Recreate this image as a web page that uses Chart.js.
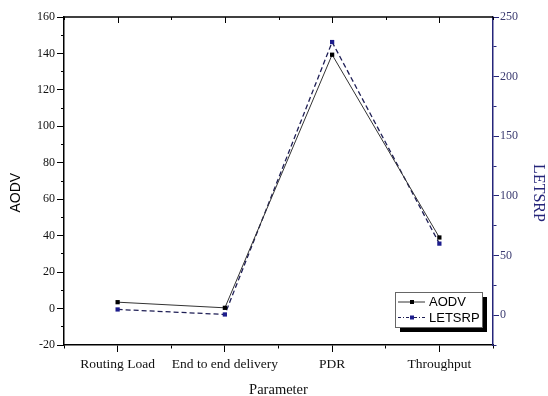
<!DOCTYPE html>
<html>
<head>
<meta charset="utf-8">
<script src="https://cdn.jsdelivr.net/npm/chart.js@4.4.0/dist/chart.umd.min.js"></script>
<style>
  html, body { margin: 0; padding: 0; background: #fff; }
</style>
</head>
<body>
<canvas id="myChart" width="548" height="396"></canvas>
<script>
// values
const categories = ["Routing Load", "End to end delivery", "PDR", "Throughput"];
const aodv = [3.5, 0.4, 139.3, 39];
const letsrp = [4.8, 0.6, 229, 60];
const leftRange = [-20, 160];
const rightRange = [-25, 250];

const navy = "#25257a";

// legend box with drop shadow, drawn inside the plot
const boxLegend = {
  id: "boxLegend",
  afterDatasetsDraw(chart) {
    const c = chart.ctx;
    const x = 395, y = 292, w = 87, h = 35;
    c.save();
    c.fillStyle = "#000";
    c.fillRect(x + 5, y + 5, w, h);
    c.fillStyle = "#fff";
    c.fillRect(x, y, w, h);
    c.strokeStyle = "#666";
    c.lineWidth = 1;
    c.strokeRect(x + 0.5, y + 0.5, w, h);
    chart.data.datasets.forEach((ds, i) => {
      const ly = y + 10 + i * 15.5;
      c.strokeStyle = ds.borderColor;
      c.lineWidth = 1;
      c.setLineDash(ds.legendDash);
      c.beginPath();
      c.moveTo(x + 3, ly);
      c.lineTo(x + 30, ly);
      c.stroke();
      c.setLineDash([]);
      c.fillStyle = ds.pointBackgroundColor;
      c.fillRect(x + 15, ly - 2, 4, 4);
      c.fillStyle = "#000";
      c.font = "13px 'Liberation Sans'";
      c.textBaseline = "middle";
      c.fillText(ds.label, x + 34, ly + 0.5);
    });
    c.restore();
  },
};

// top frame line with inward ticks
const topFrame = {
  id: "topFrame",
  afterDraw(chart) {
    const c = chart.ctx;
    const a = chart.chartArea;
    const xs = chart.scales.x;
    c.save();
    c.strokeStyle = "#000";
    c.lineWidth = 1.5;
    c.beginPath();
    c.moveTo(a.left, a.top);
    c.lineTo(a.right, a.top);
    c.stroke();
    c.lineWidth = 1;
    xs.ticks.forEach((t) => {
      const px = Math.round(xs.getPixelForValue(t.value)) + 0.5;
      const len = Number.isInteger(t.value) ? 6 : 3;
      c.beginPath();
      c.moveTo(px, a.top);
      c.lineTo(px, a.top + len);
      c.stroke();
    });
    c.restore();
  },
};

const ctx = document.getElementById("myChart");
new Chart(ctx, {
  type: "line",
  data: {
    datasets: [
      {
        label: "AODV",
        data: aodv.map((v, i) => ({ x: i, y: v })),
        yAxisID: "y",
        borderColor: "#333",
        borderWidth: 1,
        pointStyle: "rect",
        pointRadius: 3,
        pointBorderWidth: 0,
        pointBackgroundColor: "#000",
        legendDash: [],
      },
      {
        label: "LETSRP",
        data: letsrp.map((v, i) => ({ x: i, y: v })),
        yAxisID: "y1",
        borderColor: "#1e1e55",
        borderWidth: 1.3,
        borderDash: [5, 3],
        pointStyle: "rect",
        pointRadius: 3,
        pointBorderWidth: 0,
        pointBackgroundColor: "#1c1c8c",
        legendDash: [3, 2, 1, 2],
      },
    ],
  },
  options: {
    responsive: false,
    animation: false,
    devicePixelRatio: 1,
    layout: { padding: { top: 17, left: 0, right: 0, bottom: 0 } },
    plugins: { legend: { display: false }, tooltip: { enabled: false } },
    scales: {
      x: {
        type: "linear",
        min: -0.5,
        max: 3.5,
        afterFit: (s) => { s.height = 51; },
        ticks: {
          stepSize: 0.5,
          autoSkip: false,
          maxRotation: 0,
          padding: 4,
          color: "#111",
          font: { family: "'Liberation Serif'", size: 13.5 },
          callback: (v) => (Number.isInteger(v) ? categories[v] : ""),
        },
        grid: {
          drawOnChartArea: false,
          tickLength: 7,
          tickColor: "#000",
          tickWidth: 1,
          tickBorderDash: (c) => (Number.isInteger(c.tick.value) ? [] : [3, 100]),
        },
        border: { color: "#000", width: 1.5 },
        title: {
          display: true,
          text: "Parameter",
          color: "#111",
          font: { family: "'Liberation Serif'", size: 14.5, lineHeight: 0.85 },
          padding: 0,
        },
      },
      y: {
        position: "left",
        min: leftRange[0],
        max: leftRange[1],
        afterFit: (s) => { s.width = 64; },
        ticks: {
          stepSize: 10,
          autoSkip: false,
          padding: 2,
          color: "#111",
          font: { family: "'Liberation Serif'", size: 12 },
          callback: (v) => (v % 20 === 0 ? v : ""),
        },
        grid: {
          drawOnChartArea: false,
          tickLength: 7,
          tickColor: "#000",
          tickWidth: 1,
          tickBorderDash: (c) => (c.tick.value % 20 === 0 ? [] : [0, 4, 3, 100]),
        },
        border: { color: "#000", width: 1.5 },
        title: {
          display: true,
          // trailing spaces push the title a little below the centre, as in the original
          text: "AODV      ",
          color: "#000",
          font: { family: "'Liberation Sans'", size: 14 },
          padding: { top: 8 },
        },
      },
      y1: {
        position: "right",
        min: rightRange[0],
        max: rightRange[1],
        afterFit: (s) => { s.width = 55; },
        ticks: {
          stepSize: 25,
          autoSkip: false,
          padding: 1,
          color: "#3a3a70",
          font: { family: "'Liberation Serif'", size: 12 },
          callback: (v) => (v >= 0 && v % 50 === 0 ? v : ""),
        },
        grid: {
          drawOnChartArea: false,
          tickLength: 6,
          tickColor: navy,
          tickWidth: 1,
          tickBorderDash: (c) => (c.tick.value % 50 === 0 ? [] : [3, 100]),
        },
        border: { color: navy, width: 1.5 },
        title: {
          display: true,
          text: "      LETSRP",
          color: navy,
          font: { family: "'Liberation Serif'", size: 16 },
          padding: { top: 0 },
        },
      },
    },
  },
  plugins: [boxLegend, topFrame],
});
</script>
</body>
</html>
